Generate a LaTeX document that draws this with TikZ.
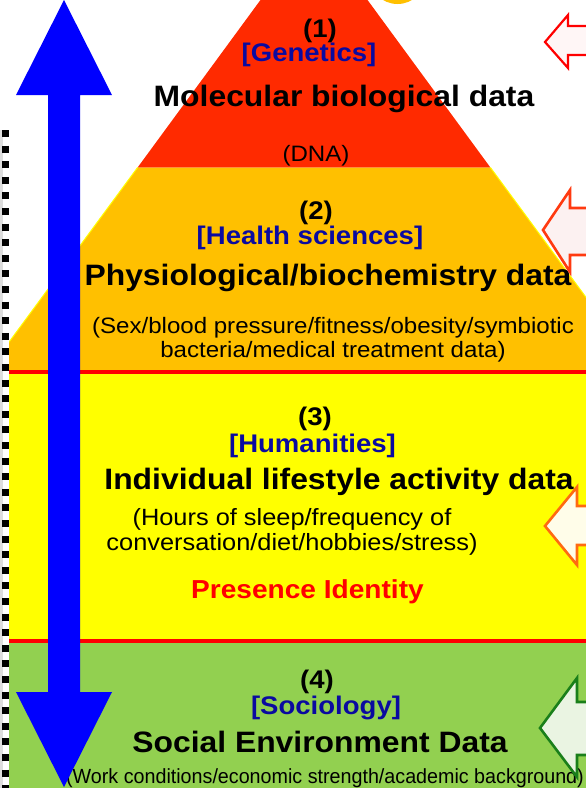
\documentclass[tikz,border=0pt]{standalone}
\usepackage{fontspec}
\setmainfont{Liberation Sans}[FakeStretch=1.08]
\usepackage{graphicx}
\definecolor{pyrred}{HTML}{FF2A00}
\definecolor{pyrorange}{HTML}{FFC000}
\definecolor{pyryellow}{HTML}{FFFF00}
\definecolor{pyrgreen}{HTML}{92D050}
\definecolor{linered}{HTML}{FF0000}
\definecolor{tagblue}{HTML}{0A0AA0}
\definecolor{arrblue}{HTML}{0000FF}
\definecolor{arA}{HTML}{FF0000}
\definecolor{arAfill}{HTML}{FFF6F6}
\definecolor{arB}{HTML}{FF3A10}
\definecolor{arBfill}{HTML}{FCF1F1}
\definecolor{arC}{HTML}{FF6A10}
\definecolor{arCfill}{HTML}{FFFDE9}
\definecolor{arD}{HTML}{1A7F1A}
\definecolor{arDfill}{HTML}{EAF4E2}
\definecolor{stripgray}{HTML}{DDDDDD}
\begin{document}
\begin{tikzpicture}[x=1pt,y=-1pt,
  every node/.style={inner sep=0pt, anchor=base},
  numtxt/.style={font=\fontsize{25.5}{26}\selectfont\bfseries},
  tagtxt/.style={font=\fontsize{25.5}{26}\selectfont\bfseries, text=tagblue},
  ttltxt/.style={font=\fontsize{29.5}{30}\selectfont\bfseries},
  subtxt/.style={font=\fontsize{22.3}{23}\selectfont},
  subbig/.style={font=\fontsize{23.5}{24}\selectfont},
  redtxt/.style={font=\fontsize{26}{27}\selectfont\bfseries, text=linered},
  sidearrow/.style={line width=2.6pt, line join=miter},
]
\useasboundingbox (0,0) rectangle (586,788);
\begin{scope}
\clip (8.5,0) rectangle (586,788);
% small orange disc at the very top
\fill[pyrorange] (397.5,-24.3) circle (28.3);
% pyramid: red top
\fill[pyrred] (314,-73) -- (490.4,167.5) -- (137.6,167.5) -- cycle;
% orange band
\fill[pyrorange] (137.6,167.5) -- (490.4,167.5) -- (641,372) -- (-13,372) -- cycle;
\draw[pyryellow, line width=1pt] (137.6,167.5) -- (-13,372);
\draw[pyryellow, line width=1pt] (490.4,167.5) -- (641,372);
% yellow and green bands
\fill[pyryellow] (0,372) rectangle (586,641);
\fill[pyrgreen] (0,641) rectangle (586,788);
% red separators
\draw[linered, line width=4.5pt] (0,372) -- (586,372);
\draw[linered, line width=4.5pt] (0,641) -- (586,641);
\end{scope}

% texts, level 1
\node[numtxt] (n1) at (320,37) {(1)};
\node[tagtxt] (t1) at (309,61.5) {[Genetics]};
\node[ttltxt] (h1) at (344,106) {Molecular biological data};
\node[subtxt] (s1) at (316,161) {(DNA)};
% level 2
\node[numtxt] (n2) at (316,219) {(2)};
\node[tagtxt] (t2) at (310,244) {[Health sciences]};
\node[ttltxt] (h2) at (328,285) {Physiological/biochemistry data};
\node[subtxt] (s2a) at (333,333) {(Sex/blood pressure/fitness/obesity/symbiotic};
\node[subtxt] (s2b) at (333,357) {bacteria/medical treatment data)};
% level 3
\node[numtxt] (n3) at (315,425) {(3)};
\node[tagtxt] (t3) at (312.5,452) {[Humanities]};
\node[ttltxt] (h3) at (339,489) {Individual lifestyle activity data};
\node[subbig] (s3a) at (292,525) {(Hours of sleep/frequency of};
\node[subbig] (s3b) at (292,550) {conversation/diet/hobbies/stress)};
\node[redtxt] (p3) at (307.5,598) {Presence Identity};
% level 4
\node[numtxt] (n4) at (317,688) {(4)};
\node[tagtxt] (t4) at (326,714) {[Sociology]};
\node[ttltxt] (h4) at (320,752) {Social Environment Data};
\node[font=\fontsize{20.5}{21}\selectfont] (s4) at (325,783) {\scalebox{0.89}[1]{(Work conditions/economic strength/academic background)}};

% blue double arrow
\fill[arrblue] (64,0) -- (112,95) -- (80,95) -- (80,692) -- (112,692) -- (64,787)
  -- (16,692) -- (48,692) -- (48,95) -- (16,95) -- cycle;

% side arrows
\begin{scope}
\clip (0,0) rectangle (586,788);
\filldraw[sidearrow, draw=arA, fill=arAfill, line width=2.2pt] (545,42) -- (568,15) -- (568,26) -- (600,26) -- (600,55) -- (568,55) -- (568,68) -- cycle;
\filldraw[sidearrow, draw=arB, fill=arBfill] (543,230) -- (570,190) -- (570,208) -- (600,208) -- (600,255) -- (570,255) -- (570,272) -- cycle;
\filldraw[sidearrow, draw=arC, fill=arCfill] (545,526) -- (577,487) -- (577,506) -- (600,506) -- (600,545) -- (577,545) -- (577,565) -- cycle;
\filldraw[sidearrow, draw=arD, fill=arDfill] (540,728) -- (577,678) -- (577,702) -- (600,702) -- (600,755) -- (577,755) -- (577,777) -- cycle;
\end{scope}

% left dotted border
\fill[white] (0,127) rectangle (8.5,788);
\fill[stripgray] (0,130) rectangle (2.5,788);
\draw[black, line width=6.5pt, dash pattern=on 7pt off 8.6pt] (5.5,130) -- (5.5,788);
\end{tikzpicture}
\end{document}
